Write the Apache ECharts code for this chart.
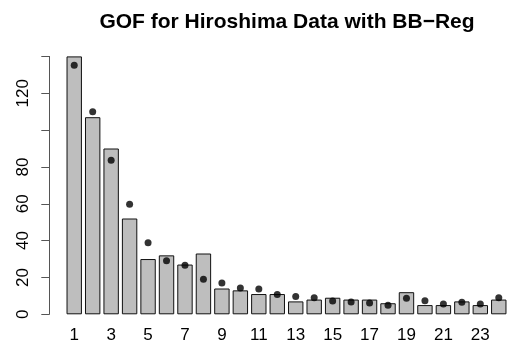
<!DOCTYPE html>
<html>
<head>
<meta charset="utf-8">
<script src="https://cdn.jsdelivr.net/npm/echarts@6/dist/echarts.min.js"></script>
<style>html,body{margin:0;padding:0;background:#fff;}#c{width:508px;height:349px;}</style>
</head>
<body>
<div id="c"></div>
<script>
var categories = ['1','2','3','4','5','6','7','8','9','10','11','12','13','14','15','16','17','18','19','20','21','22','23','24'];
var observed = [140,107,90,52,30,32,27,33,14,13,11,11,7,8,9,8,8,6,12,5,5,7,5,8];
var fitted = [135.2,110,83.6,59.7,38.9,29.1,26.6,19,17,14.3,13.7,10.7,9.7,9.0,7.2,6.7,6.1,4.9,8.7,7.4,5.6,6.5,5.6,9.0];
var yLabeled = [0,20,40,60,80,120];
var titleText = 'GOF for Hiroshima Data with BB\u2212Reg';

var FONT = "'Liberation Sans', Arial, Helvetica, sans-serif";
var chart = echarts.init(document.getElementById('c'), null, {renderer: 'canvas'});
chart.setOption({
  animation: false,
  backgroundColor: '#ffffff',
  title: {
    text: titleText,
    left: 287,
    top: 12,
    padding: 0,
    textAlign: 'center',
    textStyle: {fontFamily: FONT, fontWeight: 'bold', fontSize: 21, color: '#000'}
  },
  grid: {left: 65, width: 443, top: 56.4, bottom: 34.7},
  xAxis: {
    type: 'category',
    data: categories,
    boundaryGap: true,
    axisLine: {show: false},
    axisTick: {show: false},
    axisLabel: {interval: 1, margin: 13, fontFamily: FONT, fontSize: 17, color: '#000'}
  },
  yAxis: {
    type: 'value',
    min: 0, max: 140, interval: 20,
    offset: 15.7,
    splitLine: {show: false},
    axisLine: {show: true, lineStyle: {color: '#555', width: 1}},
    axisTick: {show: true, length: 8, lineStyle: {color: '#555', width: 1}},
    axisLabel: {
      rotate: 90, margin: 17, fontFamily: FONT, fontSize: 17, color: '#000',
      formatter: function (v) { return yLabeled.indexOf(v) >= 0 ? String(v) : ''; }
    }
  },
  series: [
    {
      type: 'bar',
      data: observed,
      barWidth: 15.4,
      itemStyle: {color: '#bebebe', borderColor: '#111', borderWidth: 1}
    },
    {
      type: 'scatter',
      data: fitted,
      symbol: 'circle',
      symbolSize: 7,
      itemStyle: {color: '#000'}
    }
  ]
});
</script>
</body>
</html>
